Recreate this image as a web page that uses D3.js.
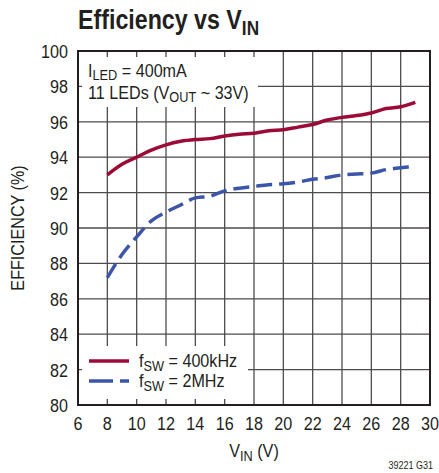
<!DOCTYPE html>
<html><head><meta charset="utf-8">
<script src="https://cdn.jsdelivr.net/npm/d3@7"></script>
<style>
body{margin:0;background:#fff;}
svg{display:block;}
text{font-family:"Liberation Sans Narrow","Liberation Sans",Arial,sans-serif;fill:#231f20;}
</style></head>
<body><svg id="c" width="439" height="473"></svg>
<script>
const vin = [8,9,10,11,12,13,14,15,16,17,18,19,20,21,22,23,24,25,26,27,28,29];
const eff400k = [93.0,93.6,94.0,94.4,94.7,94.9,95.0,95.05,95.2,95.3,95.35,95.5,95.55,95.7,95.85,96.1,96.25,96.35,96.5,96.75,96.85,97.1];
const eff2M = [87.2,88.5,89.5,90.4,90.9,91.3,91.7,91.8,92.1,92.25,92.35,92.45,92.5,92.6,92.75,92.85,93.0,93.05,93.1,93.3,93.4,93.5];
const xTicks = [6,8,10,12,14,16,18,20,22,24,26,28,30];
const yTicks = [80,82,84,86,88,90,92,94,96,98,100];
const seriesNames = ["400kHz","2MHz"];

const SX = 0.85;
const svg = d3.select("#c");
const L=78, R=430, T=51, B=405;
const x = d3.scaleLinear().domain([6,30]).range([L,R]);
const y = d3.scaleLinear().domain([80,100]).range([B,T]);

function txt(px, py, size, anchor, sx){
  return svg.append("text").attr("transform",`translate(${px},${py}) scale(${sx||SX},1)`)
    .attr("font-size",size).attr("text-anchor",anchor||"start");
}

// grid
const g = svg.append("g");
g.selectAll("line.v").data(xTicks.slice(1,-1)).join("line")
  .attr("x1",d=>x(d)).attr("x2",d=>x(d)).attr("y1",T).attr("y2",B)
  .attr("stroke","#4d4d4d").attr("stroke-width",1.3);
g.selectAll("line.h").data(yTicks.slice(1,-1)).join("line")
  .attr("y1",d=>y(d)).attr("y2",d=>y(d)).attr("x1",L).attr("x2",R)
  .attr("stroke","#4d4d4d").attr("stroke-width",1.3);

// white boxes behind annotation and legend
svg.append("rect").attr("x",82).attr("y",57).attr("width",176).attr("height",50).attr("fill","#fff");
svg.append("rect").attr("x",82).attr("y",346).attr("width",166).attr("height",53).attr("fill","#fff");

// lines
const line = d3.line().x((d,i)=>x(vin[i])).y(d=>y(d)).curve(d3.curveMonotoneX);
svg.append("path").attr("d",line(eff400k)).attr("fill","none").attr("stroke","#9b0b35").attr("stroke-width",3.5);
svg.append("path").attr("d",line(eff2M)).attr("fill","none").attr("stroke","#3b56a8").attr("stroke-width",3.5).attr("stroke-dasharray","16,7");

// frame
svg.append("rect").attr("x",L).attr("y",T).attr("width",R-L).attr("height",B-T)
  .attr("fill","none").attr("stroke","#231f20").attr("stroke-width",2);

// tick labels
yTicks.forEach(d=>{ txt(L-10, y(d)+7, 19, "end").text(d); });
xTicks.forEach(d=>{ txt(x(d), B+25, 19, "middle").text(d); });

// title
const tt = txt(L, 29, 27, "start", 0.86).attr("font-weight","bold");
tt.append("tspan").text("Efficiency vs V");
tt.append("tspan").attr("dy",6).attr("font-size",20).text("IN");

// y label
svg.append("text").attr("transform",`translate(24,${(T+B)/2}) rotate(-90) scale(${SX},1)`).attr("text-anchor","middle")
  .attr("font-size",19).text("EFFICIENCY (%)");

// x label
const xl = txt(254, 457, 19, "middle");
xl.append("tspan").text("V");
xl.append("tspan").attr("dy",4).attr("font-size",15).text("IN");
xl.append("tspan").attr("dy",-4).text(" (V)");

// annotation
const a1 = txt(88, 77, 19);
a1.append("tspan").text("I");
a1.append("tspan").attr("dy",3).attr("font-size",15).text("LED");
a1.append("tspan").attr("dy",-3).text(" = 400mA");
const a2 = txt(88, 99, 19);
a2.append("tspan").text("11 LEDs (V");
a2.append("tspan").attr("dy",3).attr("font-size",15).text("OUT");
a2.append("tspan").attr("dy",-3).text(" ~ 33V)");

// legend
const leg = [{n:seriesNames[0],c:"#9b0b35",d:null,y:361},{n:seriesNames[1],c:"#3b56a8",d:"24,7",y:381}];
leg.forEach(l=>{
  svg.append("line").attr("x1",89).attr("x2",129).attr("y1",l.y).attr("y2",l.y)
    .attr("stroke",l.c).attr("stroke-width",3.5).attr("stroke-dasharray",l.d);
  const t = txt(139, l.y+6, 19);
  t.append("tspan").text("f");
  t.append("tspan").attr("dy",4).attr("font-size",15).text("SW");
  t.append("tspan").attr("dy",-4).text(" = "+l.n);
});

// figure code
txt(433, 469, 10, "end", 0.9).text("39221 G31");
</script></body></html>
